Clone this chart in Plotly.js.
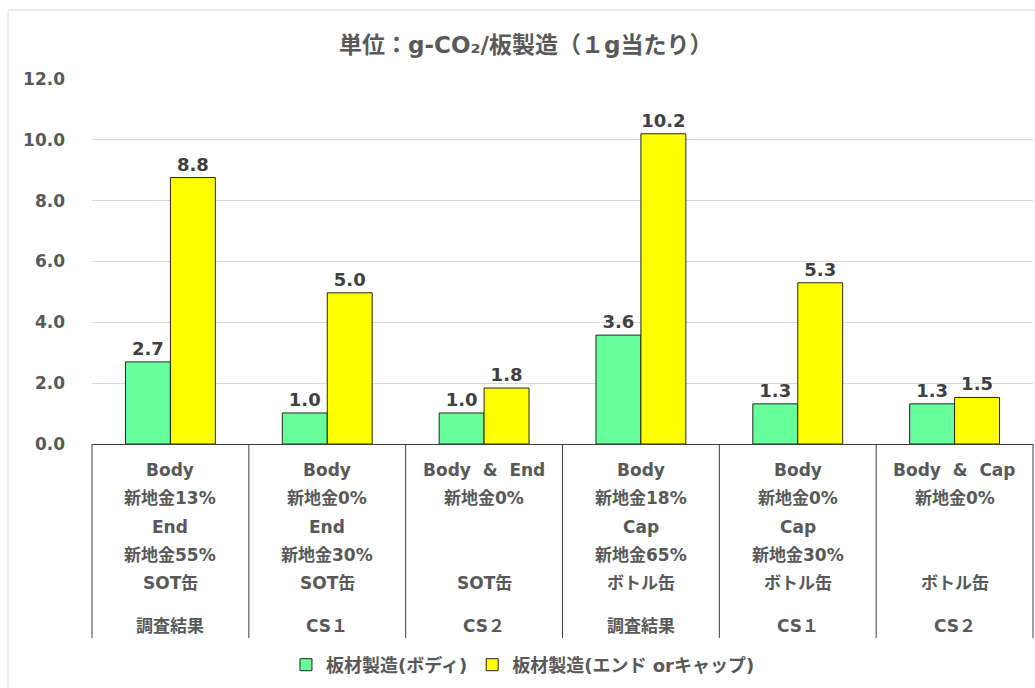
<!DOCTYPE html>
<html>
<head>
<meta charset="utf-8">
<script src="https://cdn.plot.ly/plotly-3.0.1.min.js"></script>
<style>html,body{margin:0;padding:0;background:#fff;}#chart{width:1035px;height:688px;}</style>
</head>
<body>
<div id="chart"></div>
<script>
const categories = ['g1','g2','g3','g4','g5','g6'];
const groupLabels = ['調査結果','CS１','CS２','調査結果','CS１','CS２'];
const line1 = ['Body','Body','Body&nbsp;&nbsp;&amp;&nbsp;&nbsp;End','Body','Body','Body&nbsp;&nbsp;&amp;&nbsp;&nbsp;Cap'];
const line2 = ['新地金13%','新地金0%','新地金0%','新地金18%','新地金0%','新地金0%'];
const line3 = ['End','End','','Cap','Cap',''];
const line4 = ['新地金55%','新地金30%','','新地金65%','新地金30%',''];
const line5 = ['SOT缶','SOT缶','SOT缶','ボトル缶','ボトル缶','ボトル缶'];
const bodyValues = [2.7, 1.02, 1.02, 3.58, 1.32, 1.32];
const endCapValues = [8.76, 4.97, 1.84, 10.2, 5.3, 1.53];
const seriesNames = ['板材製造(ボディ)', '板材製造(エンド orキャップ)'];
const yTicks = [0, 2, 4, 6, 8, 10, 12];

const FONT = '"DejaVu Sans", "Noto Sans CJK JP", sans-serif';
const GRAY = '#595959';

const traces = [
  {type:'bar', name:seriesNames[0], x:categories, y:bodyValues,
   marker:{color:'#66FF99', line:{color:'#262626', width:1}},
   texttemplate:'%{y:.1f}', textposition:'outside', cliponaxis:false,
   textfont:{family:FONT, size:18, color:'#404040', weight:'bold'}},
  {type:'bar', name:seriesNames[1], x:categories, y:endCapValues,
   marker:{color:'#FFFF00', line:{color:'#262626', width:1}},
   texttemplate:'%{y:.1f}', textposition:'outside', cliponaxis:false,
   textfont:{family:FONT, size:18, color:'#404040', weight:'bold'}}
];

const rowsY = [470, 498, 527, 555, 583];
const plotTop = 79, plotBottom = 444, plotH = plotBottom - plotTop;
const py = v => (plotBottom - v) / plotH;
const annotations = [];
const lines = [line1, line2, line3, line4, line5];
categories.forEach((c, i) => {
  lines.forEach((arr, r) => {
    if (arr[i]) annotations.push({xref:'x', yref:'paper', x:c, y:py(rowsY[r]), yanchor:'middle',
      text:arr[i], showarrow:false, font:{family:FONT, size:17, color:GRAY, weight:'bold'}});
  });
  annotations.push({xref:'x', yref:'paper', x:c, y:py(626), yanchor:'middle',
    text:groupLabels[i], showarrow:false, font:{family:FONT, size:17, color:GRAY, weight:'bold'}});
});

const shapes = [];
for (let i = 0; i <= categories.length; i++) {
  shapes.push({type:'line', xref:'paper', yref:'paper', x0:i/categories.length, x1:i/categories.length,
    y0:0, y1:py(638), line:{color:'#404040', width:1}});
}
shapes.push({type:'rect', xref:'paper', yref:'paper', x0:(8-92)/941, x1:1.2, y0:-1, y1:py(10),
  line:{color:'#d9d9d9', width:1}, layer:'below'});

const layout = {
  width:1035, height:688,
  margin:{l:92, r:2, t:plotTop, b:688-plotBottom},
  paper_bgcolor:'#ffffff', plot_bgcolor:'#ffffff',
  title:{text:'単位：g-CO₂/板製造（１g当たり）', x:0.508, xref:'container', y:1-45/688, yref:'container',
    yanchor:'middle', font:{family:FONT, size:23, color:GRAY, weight:'bold'}},
  barmode:'group', bargap:0.427, bargroupgap:0,
  xaxis:{type:'category', showticklabels:false, showline:true, linecolor:'#404040', linewidth:1,
    showgrid:false, ticks:'', range:[-0.5, 5.5], fixedrange:true},
  yaxis:{range:[0,12], tickvals:yTicks, tickformat:'.1f', showgrid:true, gridcolor:'#d9d9d9', gridwidth:1,
    zeroline:false, showline:false, ticks:'', ticklabelstandoff:26,
    tickfont:{family:FONT, size:17, color:GRAY, weight:'bold'}},
  showlegend:true,
  legend:{orientation:'h', x:0.458, xanchor:'center', y:py(665), yanchor:'middle',
    font:{family:FONT, size:18, color:GRAY, weight:'bold'}, itemwidth:30, traceorder:'normal'},
  annotations:annotations, shapes:shapes
};

Plotly.newPlot('chart', traces, layout, {displayModeBar:false, staticPlot:true});
</script>
</body>
</html>
